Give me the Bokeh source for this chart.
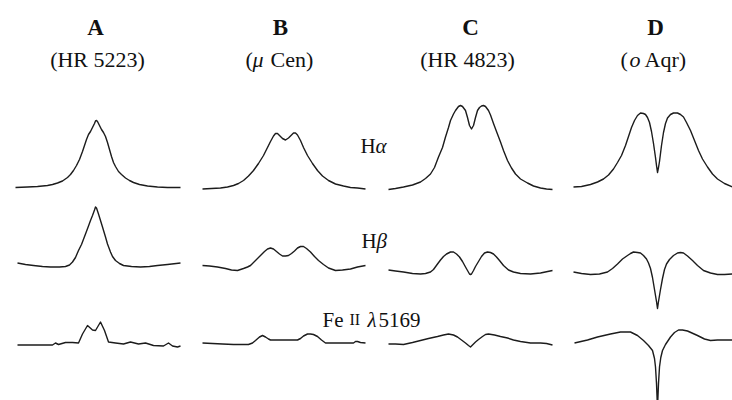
from bokeh.plotting import figure
from bokeh.models import Range1d
from bokeh.core.properties import value
from bokeh.embed import file_html
from bokeh.resources import INLINE

# ---------------- data: line profiles (velocity km/s, normalized flux) ----------------
stars = ["A", "B", "C", "D"]
star_names = ["(HR 5223)", "(\u03bc Cen)", "(HR 4823)", "(o Aqr)"]
lines = ["H\u03b1", "H\u03b2", "Fe II \u03bb5169"]

# H-alpha
ha_A_v = [-820, -700, -600, -500, -450, -400, -350, -300, -270, -240, -210, -180, -150, -130, -110, -90, -70, -50, -30, -20, -10, 0, 10, 20, 40, 60, 80, 100, 120, 140, 160, 180, 210, 240, 280, 320, 360, 420, 500, 600, 700, 830]
ha_A_f = [1.00, 1.01, 1.02, 1.04, 1.06, 1.09, 1.13, 1.20, 1.26, 1.34, 1.44, 1.56, 1.72, 1.84, 1.96, 2.06, 2.12, 2.20, 2.28, 2.33, 2.34, 2.32, 2.28, 2.24, 2.16, 2.10, 2.02, 1.90, 1.76, 1.62, 1.50, 1.42, 1.32, 1.26, 1.19, 1.14, 1.10, 1.06, 1.03, 1.01, 1.00, 1.00]
ha_B_v = [-810, -720, -630, -560, -500, -450, -400, -350, -300, -250, -200, -160, -130, -100, -80, -60, -40, -10, 20, 50, 80, 100, 120, 140, 170, 200, 240, 290, 340, 390, 450, 520, 600, 670, 740, 820]
ha_B_f = [0.97, 0.98, 0.99, 1.01, 1.04, 1.08, 1.14, 1.23, 1.34, 1.48, 1.64, 1.80, 1.92, 2.03, 2.08, 2.08, 2.04, 1.98, 1.95, 1.99, 2.05, 2.09, 2.09, 2.05, 1.94, 1.80, 1.64, 1.48, 1.34, 1.23, 1.14, 1.07, 1.03, 1.00, 0.99, 0.97]
ha_C_v = [-820, -750, -670, -580, -500, -450, -400, -360, -320, -280, -250, -220, -200, -170, -150, -120, -100, -80, -50, -30, -10, 10, 30, 50, 70, 90, 110, 130, 150, 180, 200, 230, 260, 300, 330, 370, 410, 450, 500, 570, 630, 700, 760, 820]
ha_C_f = [0.96, 0.98, 1.01, 1.05, 1.11, 1.18, 1.27, 1.40, 1.61, 1.80, 2.01, 2.20, 2.34, 2.47, 2.54, 2.62, 2.64, 2.62, 2.54, 2.40, 2.24, 2.17, 2.24, 2.40, 2.54, 2.60, 2.63, 2.64, 2.62, 2.54, 2.45, 2.28, 2.12, 1.91, 1.74, 1.54, 1.39, 1.27, 1.17, 1.09, 1.03, 0.99, 0.97, 0.96]
ha_D_v = [-840, -760, -670, -600, -540, -490, -440, -400, -360, -320, -290, -260, -230, -200, -170, -140, -120, -100, -80, -60, -40, -20, -10, 0, 10, 20, 40, 60, 80, 100, 130, 160, 200, 230, 260, 290, 330, 370, 410, 450, 500, 550, 600, 670, 750, 840]
ha_D_f = [1.01, 1.02, 1.06, 1.11, 1.17, 1.25, 1.37, 1.50, 1.64, 1.84, 2.02, 2.20, 2.34, 2.44, 2.49, 2.48, 2.46, 2.40, 2.30, 2.12, 1.88, 1.60, 1.44, 1.30, 1.40, 1.52, 1.84, 2.10, 2.28, 2.39, 2.46, 2.49, 2.49, 2.46, 2.41, 2.30, 2.14, 1.94, 1.74, 1.57, 1.41, 1.27, 1.17, 1.08, 1.01, 1.00]

# H-beta
hb_A_v = [-800, -720, -640, -550, -470, -380, -320, -280, -250, -220, -190, -160, -120, -90, -70, -50, -30, -20, -10, 10, 30, 50, 80, 100, 130, 150, 180, 220, 260, 340, 430, 520, 600, 700, 830]
hb_A_f = [1.05, 1.02, 1.00, 0.98, 0.97, 0.97, 0.98, 1.01, 1.07, 1.16, 1.30, 1.42, 1.63, 1.79, 1.90, 2.00, 2.11, 2.17, 2.15, 2.03, 1.90, 1.77, 1.57, 1.43, 1.27, 1.18, 1.10, 1.04, 1.00, 0.98, 0.97, 0.98, 1.00, 1.02, 1.05]
hb_B_v = [-810, -740, -660, -580, -520, -460, -400, -360, -330, -280, -230, -190, -160, -130, -100, -70, -40, -10, 20, 50, 80, 110, 140, 170, 200, 230, 270, 310, 350, 400, 450, 520, 590, 670, 740, 820]
hb_B_f = [1.00, 0.99, 0.97, 0.94, 0.91, 0.90, 0.94, 0.97, 1.00, 1.10, 1.20, 1.28, 1.33, 1.35, 1.33, 1.28, 1.23, 1.19, 1.19, 1.20, 1.24, 1.29, 1.35, 1.38, 1.38, 1.34, 1.27, 1.18, 1.10, 1.02, 0.95, 0.90, 0.91, 0.93, 0.97, 1.00]
hb_C_v = [-820, -750, -670, -580, -500, -450, -400, -370, -330, -300, -270, -240, -200, -170, -140, -110, -80, -50, -30, -10, 0, 10, 30, 50, 80, 110, 140, 170, 200, 230, 260, 290, 330, 380, 430, 500, 600, 700, 820]
hb_C_f = [0.91, 0.89, 0.87, 0.84, 0.83, 0.84, 0.87, 0.92, 1.03, 1.11, 1.18, 1.23, 1.27, 1.27, 1.23, 1.17, 1.08, 0.97, 0.90, 0.83, 0.82, 0.83, 0.90, 0.98, 1.08, 1.18, 1.25, 1.27, 1.26, 1.23, 1.17, 1.10, 1.00, 0.91, 0.87, 0.84, 0.83, 0.85, 0.90]
hb_D_v = [-840, -760, -670, -580, -500, -450, -400, -350, -300, -270, -240, -200, -170, -140, -110, -90, -70, -50, -30, -10, 0, 10, 30, 50, 70, 90, 120, 160, 200, 230, 260, 300, 350, 400, 460, 530, 600, 670, 750, 840]
hb_D_f = [0.87, 0.84, 0.82, 0.83, 0.87, 0.94, 1.03, 1.13, 1.20, 1.24, 1.27, 1.26, 1.25, 1.20, 1.13, 1.05, 0.94, 0.76, 0.52, 0.28, 0.14, 0.28, 0.52, 0.74, 0.92, 1.03, 1.12, 1.20, 1.25, 1.26, 1.25, 1.19, 1.10, 1.00, 0.90, 0.85, 0.82, 0.82, 0.83, 0.84]

# Fe II 5169
fe_A_v = [-800, -450, -420, -390, -320, -250, -190, -150, -100, -50, -20, 30, 70, 110, 180, 260, 330, 410, 480, 560, 660, 710, 750, 800, 830]
fe_A_f = [0.97, 0.97, 1.01, 0.98, 1.02, 1.02, 1.01, 1.19, 1.36, 1.27, 1.26, 1.43, 1.26, 1.03, 1.01, 0.99, 1.03, 0.99, 1.01, 0.96, 0.95, 1.01, 0.95, 0.93, 0.95]
fe_B_v = [-810, -610, -500, -350, -310, -280, -240, -210, -180, -150, -130, 140, 170, 200, 240, 270, 300, 340, 380, 420, 700, 720, 740, 770, 820]
fe_B_f = [1.01, 0.99, 0.98, 0.98, 1.01, 1.06, 1.13, 1.16, 1.13, 1.09, 1.07, 1.07, 1.10, 1.15, 1.19, 1.19, 1.18, 1.14, 1.07, 1.01, 1.01, 1.04, 1.04, 1.02, 1.01]
fe_C_v = [-820, -750, -670, -580, -500, -420, -330, -270, -220, -170, -130, -90, -50, -20, 0, 20, 50, 80, 120, 150, 180, 240, 300, 370, 430, 500, 600, 700, 760, 820]
fe_C_f = [0.99, 0.99, 0.98, 1.02, 1.06, 1.10, 1.14, 1.17, 1.19, 1.17, 1.13, 1.07, 1.01, 0.96, 0.93, 0.97, 1.03, 1.08, 1.14, 1.18, 1.19, 1.17, 1.14, 1.11, 1.07, 1.04, 1.01, 1.01, 1.00, 0.97]
fe_D_v = [-830, -700, -600, -470, -370, -270, -200, -140, -90, -50, -30, -20, -10, 0, 10, 20, 33, 50, 80, 130, 170, 210, 250, 300, 400, 470, 530, 600, 750, 840]
fe_D_f = [1.01, 1.07, 1.13, 1.19, 1.23, 1.23, 1.16, 1.06, 0.96, 0.86, 0.70, 0.53, 0.20, -0.30, 0.20, 0.53, 0.72, 0.86, 0.98, 1.13, 1.22, 1.27, 1.27, 1.25, 1.16, 1.09, 1.06, 1.07, 1.07, 1.07]

profiles = [
    [(ha_A_v, ha_A_f), (ha_B_v, ha_B_f), (ha_C_v, ha_C_f), (ha_D_v, ha_D_f)],
    [(hb_A_v, hb_A_f), (hb_B_v, hb_B_f), (hb_C_v, hb_C_f), (hb_D_v, hb_D_f)],
    [(fe_A_v, fe_A_f), (fe_B_v, fe_B_f), (fe_C_v, fe_C_f), (fe_D_v, fe_D_f)],
]

# ---------------- layout (canvas units, y downward) ----------------
W, H = 732, 400
panel_cx = [97, 283, 470, 657]
row_base = [187, 265, 343]
px_per_kms = 0.1
px_per_flux = 50
FONT = value("Liberation Serif")
INK = "#1c1c1c"
TXT = "#111111"

p = figure(width=W, height=H, x_range=Range1d(0, W), y_range=Range1d(H, 0),
           x_axis_type=None, y_axis_type=None, toolbar_location=None,
           output_backend="svg", min_border=0, outline_line_color=None,
           background_fill_color="white", border_fill_color="white")
p.grid.visible = False

for r, row in enumerate(profiles):
    for c, (v, f) in enumerate(row):
        xs = [panel_cx[c] + vv * px_per_kms for vv in v]
        ys = [row_base[r] - (ff - 1.0) * px_per_flux for ff in f]
        p.line(xs, ys, line_color=INK, line_width=1.4, line_join="round")

# column letters
p.text(x=[95, 280, 470, 655], y=[27] * 4, text=stars, text_font=FONT,
       text_font_size="23px", text_font_style="bold", text_align="center",
       text_baseline="alphabetic", text_color=TXT)

# star names (plain)
p.text(x=[97, 467], y=[59, 59], text=[star_names[0], star_names[2]], text_font=FONT,
       text_font_size="22px", text_align="center", text_baseline="alphabetic",
       text_color=TXT)
# mixed-style names
p.text(x=[245, 270, 620, 644], y=[59] * 4, text=["(", "Cen)", "(", "Aqr)"], text_font=FONT,
       text_font_size="22px", text_align="left", text_baseline="alphabetic",
       text_color=TXT)
p.text(x=[252, 629], y=[59, 59], text=["\u03bc", "o"], text_font=FONT,
       text_font_size="22px", text_font_style="italic", text_align="left",
       text_baseline="alphabetic", text_color=TXT)

# line labels
p.text(x=[360, 361, 322], y=[145, 240, 319], text=["H", "H", "Fe"], text_font=FONT,
       text_font_size="21px", text_align="left", text_baseline="alphabetic",
       text_color=TXT)
p.text(x=[375, 376, 367], y=[145, 240, 319], text=["\u03b1", "\u03b2", "\u03bb"], text_font=FONT,
       text_font_size="21px", text_font_style="italic", text_align="left",
       text_baseline="alphabetic", text_color=TXT)
p.text(x=[349], y=[319], text=["II"], text_font=FONT,
       text_font_size="16px", text_align="left", text_baseline="alphabetic",
       text_color=TXT)
p.text(x=[378], y=[319], text=["5169"], text_font=FONT,
       text_font_size="21px", text_align="left", text_baseline="alphabetic",
       text_color=TXT)

open("out.html", "w").write(file_html(p, INLINE))
